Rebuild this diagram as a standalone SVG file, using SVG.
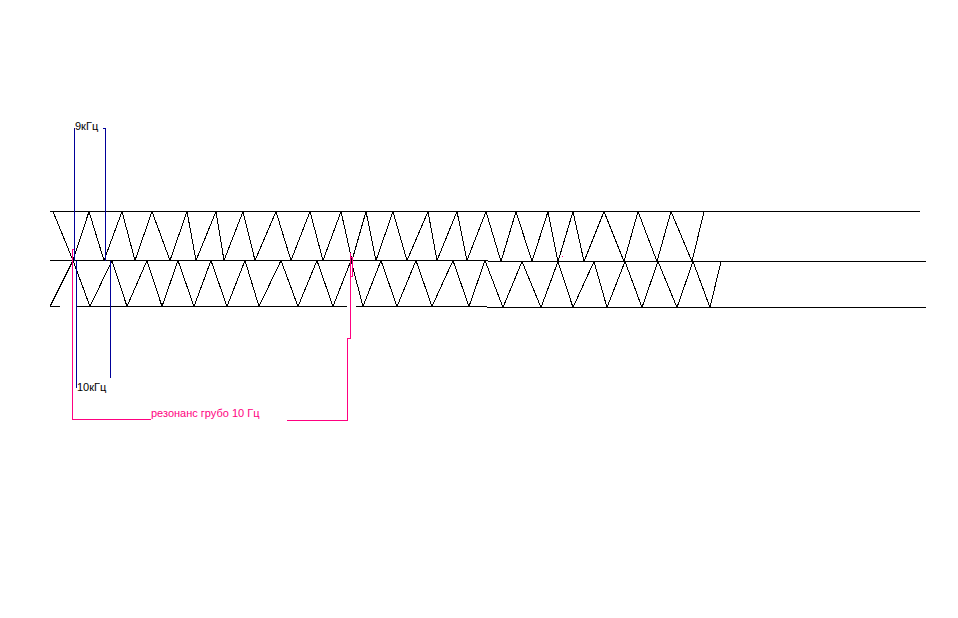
<svg xmlns="http://www.w3.org/2000/svg" width="958" height="618" viewBox="0 0 958 618">
  <style>
    .ln { fill: none; stroke: #000000; stroke-width: 1; stroke-linejoin: bevel; shape-rendering: crispEdges; }
    .blue { fill: none; stroke: #000099; stroke-width: 1; shape-rendering: crispEdges; }
    .pink { fill: none; stroke: #ff0080; stroke-width: 1; shape-rendering: crispEdges; }
    .lbl { font-family: "Liberation Sans", Arial, sans-serif; font-size: 11px; fill: #000000; }
    .plbl { font-family: "Liberation Sans", Arial, sans-serif; font-size: 11px; fill: #ff0080; }
  </style>
  <rect x="0" y="0" width="958" height="618" fill="#ffffff"/>
  <g id="bands">
    <path class="ln" d="M50,211.5 H920"/>
    <path class="ln" d="M50,260.5 H488 M488,261.5 H926"/>
    <path class="ln" d="M50,306.5 H60 M77,306.5 H347 M356,306.5 H487 M487,307.5 H926"/>
  </g>
  <g id="wave-top">
    <polyline class="ln" points="53,211.5 73,260.5 89,211.5 104,260.5 122,211.5 135,260.5 152,211.5 170,260.5 187,211.5 196,260.5 216,211.5 224,260.5 243,211.5 255,260.5 276,211.5 291,260.5 310,211.5 323,260.5 341,211.5 352,260.5 366,211.5 376,260.5 393,211.5 407,260.5 428,211.5 437,260.5 457,211.5 467,260.5 486,211.5 501,261.5 516,211.5 532,261.5 548,211.5 558,261.5 573,211.5 584,261.5 604,211.5 624,261.5 638,211.5 657,261.5 671,211.5 692,261.5 704,211.5"/>
  </g>
  <g id="wave-bottom">
    <polyline class="ln" points="50,306.5 73,260.5 90,306.5 112,260.5 127,306.5 147,260.5 162,306.5 178,260.5 194,306.5 211,260.5 227,306.5 245,260.5 259,306.5 281,260.5 298,306.5 317,260.5 333,306.5 351,260.5 363,306.5 381,260.5 397,306.5 416,260.5 432,306.5 453,260.5 469,306.5 485,260.5 503,307.5 522,261.5 541,307.5 558,261.5 573,307.5 594,261.5 607,307.5 625,261.5 642,307.5 658,261.5 677,307.5 693,261.5 710,307.5 721,261.5"/>
  </g>
  <g id="marker-9khz">
    <path class="blue" d="M74.5,128 V261 M103,128.5 H105.5 V261"/>
    <text class="lbl" x="75" y="130">9кГц</text>
  </g>
  <g id="marker-10khz">
    <path class="blue" d="M76.5,261 V388 M110.5,261 V378"/>
    <text class="lbl" x="77" y="391">10кГц</text>
  </g>
  <g id="resonance">
    <path class="pink" d="M74,249.5 H72.5 V419.5 H151"/>
    <path class="pink" d="M287,420.5 H347.5 V338 H350.5 V253 M350.5,257.5 H352.5 V276.5 H350.5"/>
    <rect x="562" y="256" width="1" height="1" fill="#ff0080"/>
    <text class="plbl" x="151" y="417">резонанс грубо 10 Гц</text>
  </g>
</svg>
